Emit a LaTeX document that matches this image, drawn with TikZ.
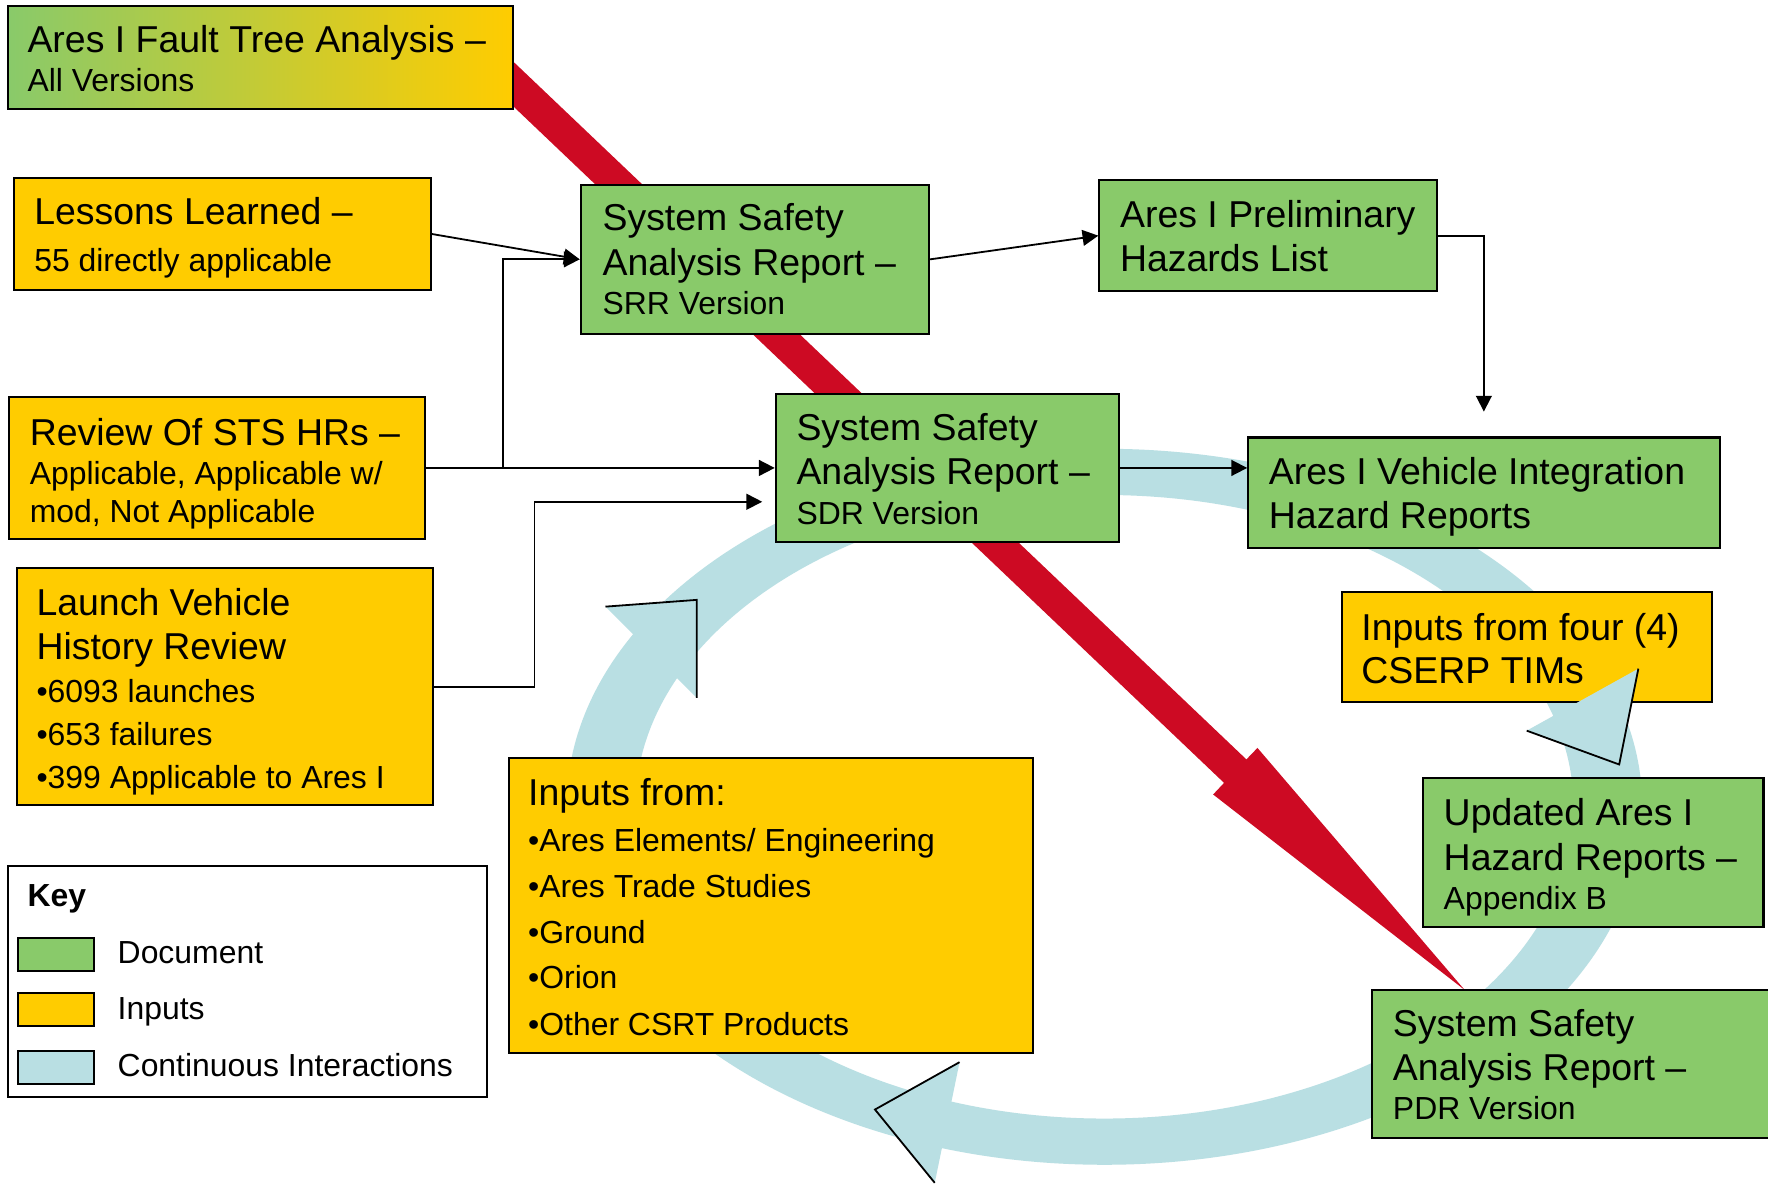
\documentclass[tikz,border=0pt]{standalone}
\usepackage{fontspec}
\setmainfont{Liberation Sans}
\usetikzlibrary{arrows.meta,calc,fit}
\definecolor{docgreen}{RGB}{137,202,106}
\definecolor{inyellow}{RGB}{255,204,0}
\definecolor{ringblue}{RGB}{185,223,227}
\definecolor{arrowred}{RGB}{205,10,35}
\newcommand{\bigtext}{\fontsize{16.6pt}{19pt}\selectfont}
\newcommand{\smalltext}{\fontsize{14.15pt}{17pt}\selectfont}
\tikzset{
  boxbase/.style={draw=black, line width=0.9pt, inner sep=0pt},
  docbox/.style={boxbase, fill=docgreen},
  inbox/.style={boxbase, fill=inyellow},
  tbig/.style={font=\bigtext, anchor=base west, inner sep=0pt},
  tsmall/.style={font=\smalltext, anchor=base west, inner sep=0pt},
  conn/.style={draw=black, line width=0.8pt, -{Triangle[length=7pt,width=7pt]}},
  headline/.style={draw=black, line width=0.8pt, line join=miter},
}
\begin{document}
\begin{tikzpicture}[x=0.5pt, y=-0.5pt]
\useasboundingbox (0,0) rectangle (1568,1051);
\fill[white] (0,0) rectangle (1568,1051);
\begin{scope}
\clip (0,0) rectangle (1568,1051);

% continuous interaction ring
\fill[ringblue, even odd rule] (979.5,715.5) ellipse [x radius=477, y radius=317.5]
                               (979.5,715.5) ellipse [x radius=416, y radius=276.5];

% red arrow
\fill[arrowred] (428.9,29.6) -- (1105.4,673.5) -- (1115.2,663.3) -- (1299,878)
   -- (1075.9,704.6) -- (1085.6,694.3) -- (409.1,50.4) -- cycle;

% boxes
\node[boxbase, fit={(7,5) (455,97)}, left color=docgreen, right color=inyellow] (fta) {};
\node[inbox,  fit={(12,158) (382,257)}] (les) {};
\node[docbox, fit={(515,164) (824,296)}] (srr) {};
\node[docbox, fit={(975,160) (1274,258)}] (pre) {};
\node[inbox,  fit={(8,352) (377,478)}] (rev) {};
\node[docbox, fit={(688,349) (992,481)}] (sdr) {};
\node[docbox, fit={(1107,388) (1525,486)}] (veh) {};
\node[inbox,  fit={(15,504) (384,714)}] (lv) {};
\node[inbox,  fit={(1190,525) (1518,623)}] (cse) {};
\node[inbox,  fit={(451,672) (916,934)}] (inp) {};
\node[docbox, fit={(1262,690) (1564,822)}] (upd) {};
\node[docbox, fit={(1217,878) (1575,1009)}] (pdr) {};

% connectors
\draw[conn] (les.east) -- (srr.west);
\draw[conn] (rev.east) -- (sdr.west);
\coordinate (jrev) at (446,415);
\draw[conn] (jrev) |- (srr.west);
\coordinate (klv) at (474,445);
\coordinate (elv) at (676,445);
\draw[conn] (lv.east) -| (klv) -- (elv);
\draw[conn] (srr.east) -- (pre.west);
\coordinate (epre) at (1316,365);
\draw[conn] (pre.east) -| (epre);
\draw[conn] (sdr.east) -- (sdr.east -| veh.west);

% blue arrowheads
\fill[ringblue] (537,538) -- (618,532) -- (618,619) -- cycle;
\draw[headline] (537,538) -- (618,532) -- (618,619);
\fill[ringblue] (1354,648) -- (1436,678) -- (1453,593) -- cycle;
\draw[headline] (1354,648) -- (1436,678) -- (1453,593);
\fill[ringblue] (851,942) -- (776,984) -- (829,1049) -- cycle;
\draw[headline] (851,942) -- (776,984) -- (829,1049);

% texts
\node[tbig]   (fta1) at (24,46.5) {Ares I Fault Tree Analysis –};
\node[tsmall] (fta2) at (24,81.5) {All Versions};

\node[tbig]   (les1) at (30,199) {Lessons Learned –};
\node[tsmall] (les2) at (30,241) {55 directly applicable};

\node[tbig]   (srr1) at (534,204.5) {System Safety};
\node[tbig]   (srr2) at (534,244.5) {Analysis Report –};
\node[tsmall] (srr3) at (534,279) {SRR Version};

\node[tbig]   (pre1) at (993,202) {Ares I Preliminary};
\node[tbig]   (pre2) at (993,241) {Hazards List};

\node[tbig]   (rev1) at (26,395) {Review Of STS HRs –};
\node[tsmall] (rev2) at (26,430) {Applicable, Applicable w/};
\node[tsmall] (rev3) at (26,463) {mod, Not Applicable};

\node[tbig]   (sdr1) at (706,391) {System Safety};
\node[tbig]   (sdr2) at (706,430) {Analysis Report –};
\node[tsmall] (sdr3) at (706,465) {SDR Version};

\node[tbig]   (veh1) at (1125,430) {Ares I Vehicle Integration};
\node[tbig]   (veh2) at (1125,469) {Hazard Reports};

\node[tbig]   (lv1) at (32,546) {Launch Vehicle};
\node[tbig]   (lv2) at (32,585) {History Review};
\node[tsmall] (lv3) at (32,623) {•6093 launches};
\node[tsmall] (lv4) at (32,661) {•653 failures};
\node[tsmall] (lv5) at (32,699) {•399 Applicable to Ares I};

\node[tbig]   (cse1) at (1207,568) {Inputs from four (4)};
\node[tbig]   (cse2) at (1207,606) {CSERP TIMs};

\node[tbig]   (inp1) at (468,714) {Inputs from:};
\node[tsmall] (inp2) at (468,755) {•Ares Elements/ Engineering};
\node[tsmall] (inp3) at (468,796) {•Ares Trade Studies};
\node[tsmall] (inp4) at (468,837) {•Ground};
\node[tsmall] (inp5) at (468,877) {•Orion};
\node[tsmall] (inp6) at (468,918) {•Other CSRT Products};

\node[tbig]   (upd1) at (1280,732) {Updated Ares I};
\node[tbig]   (upd2) at (1280,772) {Hazard Reports –};
\node[tsmall] (upd3) at (1280,807) {Appendix B};

\node[tbig]   (pdr1) at (1235,919) {System Safety};
\node[tbig]   (pdr2) at (1235,958) {Analysis Report –};
\node[tsmall] (pdr3) at (1235,993) {PDR Version};

% key
\node[boxbase, fill=white, fit={(7,768) (432,973)}] (key) {};
\node[tsmall, font=\smalltext\bfseries] (key0) at (24,804) {Key};
\node[docbox, fit={(16,832) (83,861)}] (ks1) {};
\node[inbox, fit={(16,881) (83,910)}] (ks2) {};
\node[boxbase, fill=ringblue, fit={(16,932) (83,961)}] (ks3) {};
\node[tsmall] (kt1) at (104,854.5) {Document};
\node[tsmall] (kt2) at (104,904.5) {Inputs};
\node[tsmall] (kt3) at (104,955) {Continuous Interactions};
\end{scope}
\end{tikzpicture}
\end{document}
